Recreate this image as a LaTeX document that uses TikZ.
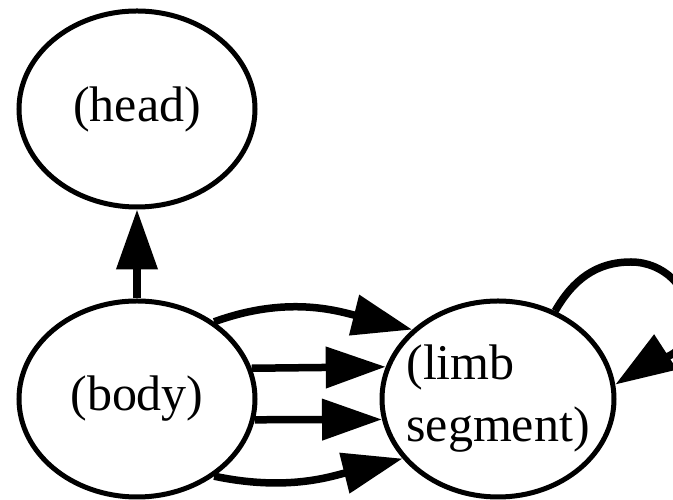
\documentclass[tikz,border=0pt]{standalone}
\usepackage{fontspec}
\setmainfont{Liberation Serif}
\usetikzlibrary{shapes.geometric,arrows.meta}
\begin{document}
\begin{tikzpicture}[x=1pt,y=1pt,
  statefont/.style={font=\fontsize{50}{62}\selectfont},
  state/.style={ellipse, draw, line width=5pt, minimum width=236pt, minimum height=196pt,
    inner sep=0pt, statefont},
  link/.style={line width=7.5pt, -{Triangle[length=60pt,width=40pt]}}]
  \useasboundingbox (0,0) rectangle (673,500);
  \clip (0,0) rectangle (673,500);
  % three states
  \node[state] (head) at (137,391) {(head)};
  \node[state] (body) at (137,101) {(body)};
  \node[state, minimum width=232pt,
    label={[statefont, align=left, inner sep=0pt]center:{(limb\\segment)}}] (limb) at (498,101) {};
  % body to head
  \draw[link] (body.north) -- (head.south);
  % four body-to-limb links
  \draw[link] (body.45) to[out=20, in=166] (limb.141);
  \draw[link] (body.15.2) -- (limb.164.6);
  \draw[link] (body.-10.1) -- (limb.190.3);
  \draw[link] (body.-45) to[out=-12, in=194] (limb.212);
  % limb self-loop, passing over its top and out past the right edge
  \coordinate (looptop) at (631,238);
  \coordinate (loopright) at (690,180);
  \draw[link] (limb.57) to[out=60, in=180] (looptop)
    to[out=0, in=90] (loopright) to[out=-90, in=33] (limb.7);
\end{tikzpicture}
\end{document}
